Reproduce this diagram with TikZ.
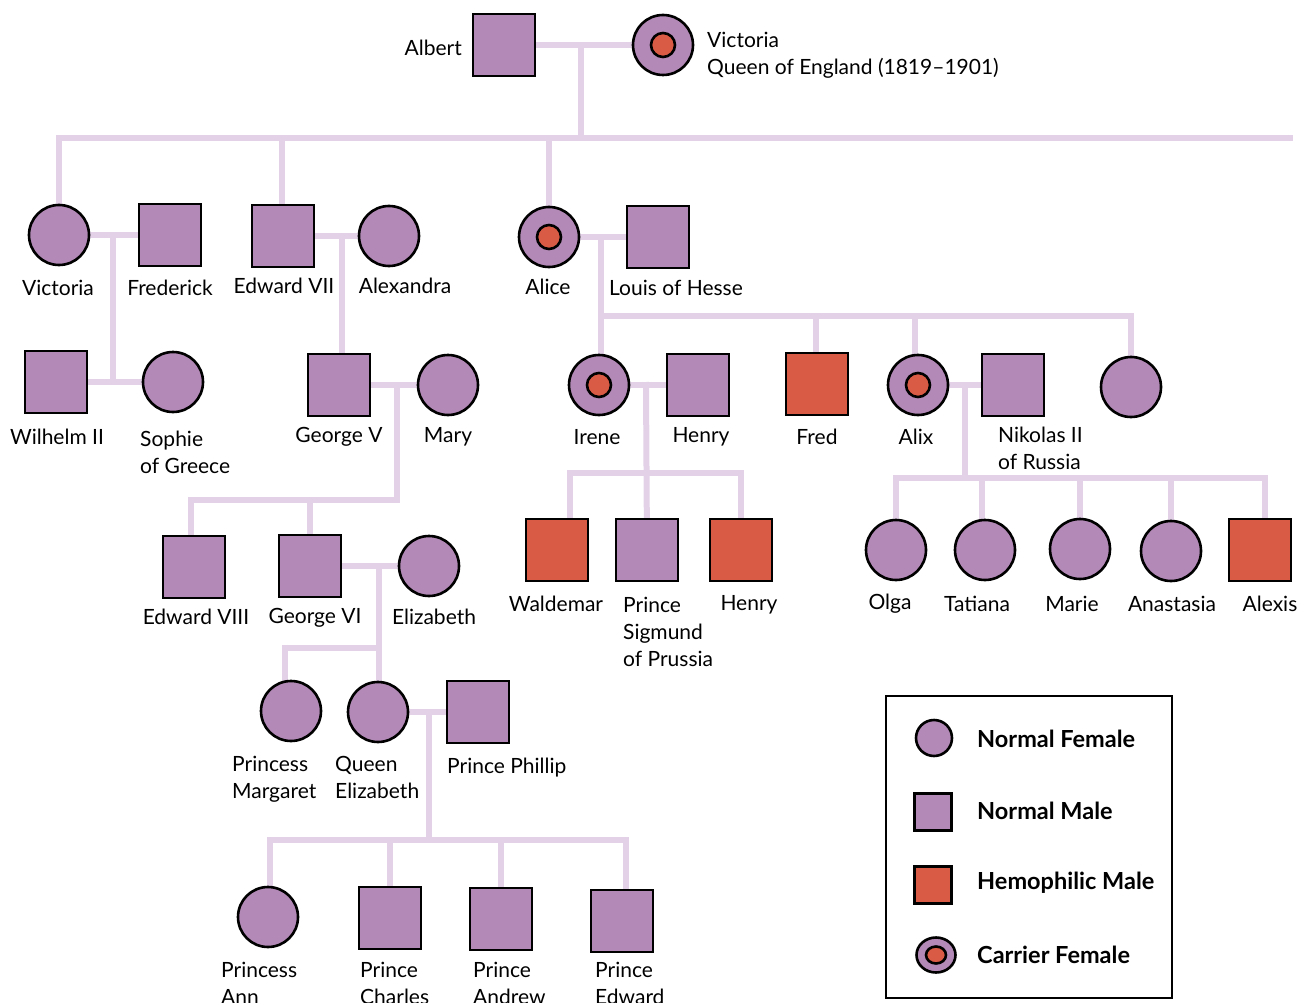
\documentclass[tikz,border=0pt]{standalone}
\usepackage{fontspec}
\setmainfont{Lato}
\usetikzlibrary{backgrounds,shapes.geometric}
\definecolor{purp}{HTML}{B38AB7}
\definecolor{hemo}{HTML}{DA5B45}
\definecolor{kinline}{HTML}{E2D1E7}
\tikzset{
  person/.style={draw=black, line width=2.6pt, fill=purp, inner sep=0pt},
  female/.style={person, circle, minimum size=60pt},
  male/.style={person, rectangle, minimum size=62pt},
  hemomale/.style={male, fill=hemo},
  carrier/.style={female, path picture={\fill[hemo, draw=black, line width=2.6pt]
      (path picture bounding box.center) circle (12pt);}},
  kin/.style={draw=kinline, line width=6pt, line cap=rect},
  lbl/.style={inner sep=0pt, font=\fontsize{21}{27}\selectfont, align=center},
  llbl/.style={lbl, align=left, anchor=west},
  keytext/.style={inner sep=0pt, anchor=west, font=\fontsize{23.5}{26}\selectfont\bfseries},
}
\begin{document}
\begin{tikzpicture}[x=1pt, y=-1pt]
\useasboundingbox (0,0) rectangle (1306,1003);

% ---- generation I
\node[male] (albert) at (504,45) {};
\node[carrier] (qvic) at (663,45) {};
\node[lbl, anchor=east] (t-albert) at (462,48) {Albert};
\node[llbl] (t-qvic) at (707,55) {Victoria\\Queen of England (1819--1901)};

% ---- generation II
\node[female] (vic) at (59,235) {};
\node[male] (fred) at (170,235) {};
\node[male] (ed7) at (283,236) {};
\node[female] (alexandra) at (389,236) {};
\node[carrier] (alice) at (549,237) {};
\node[male] (louis) at (658,237) {};
\node[lbl] (t-vic) at (58,288) {Victoria};
\node[lbl] (t-fred) at (170,288) {Frederick};
\node[lbl] (t-ed7) at (284,286) {Edward VII};
\node[lbl] (t-alexandra) at (405,286) {Alexandra};
\node[lbl] (t-alice) at (548,287) {Alice};
\node[llbl] (t-louis) at (609,288) {Louis of Hesse};

% ---- generation III
\node[male] (wil) at (56,382) {};
\node[female] (sophie) at (173,382) {};
\node[male] (george5) at (339,385) {};
\node[female] (mary) at (448,385) {};
\node[carrier] (irene) at (599,385) {};
\node[male] (henry) at (698,385) {};
\node[hemomale] (fredh) at (817,384) {};
\node[carrier] (alix) at (918,385) {};
\node[male] (nikolas) at (1013,385) {};
\node[female] (sister) at (1131,387) {};
\node[lbl] (t-wil) at (57,437) {Wilhelm II};
\node[llbl] (t-sophie) at (140,452) {Sophie\\of Greece};
\node[lbl] (t-george5) at (339,437) {George V};
\node[lbl] (t-mary) at (448,437) {Mary};
\node[lbl] (t-irene) at (597,437) {Irene};
\node[lbl] (t-henry) at (701,437) {Henry};
\node[lbl] (t-fredh) at (817,437) {Fred};
\node[lbl] (t-alix) at (916,437) {Alix};
\node[llbl] (t-nikolas) at (998,448) {Nikolas II\\of Russia};

% ---- generation IV
\node[male] (ed8) at (194,567) {};
\node[male] (george6) at (310,566) {};
\node[female] (eliz) at (429,566) {};
\node[hemomale] (waldemar) at (557,550) {};
\node[male] (sigmund) at (647,550) {};
\node[hemomale] (henryh) at (741,550) {};
\node[female] (olga) at (896,550) {};
\node[female] (tatiana) at (985,550) {};
\node[female] (marie) at (1080,549) {};
\node[female] (anastasia) at (1171,551) {};
\node[hemomale] (alexis) at (1260,550) {};
\node[lbl] (t-ed8) at (196,617) {Edward VIII};
\node[lbl] (t-george6) at (315,618) {George VI};
\node[lbl] (t-eliz) at (434,617) {Elizabeth};
\node[lbl] (t-waldemar) at (556,604) {Waldemar};
\node[llbl] (t-sigmund) at (623,632) {Prince\\Sigmund\\of Prussia};
\node[lbl] (t-henryh) at (749,605) {Henry};
\node[lbl] (t-olga) at (890,604) {Olga};
\node[lbl] (t-tatiana) at (977,604) {Tatiana};
\node[lbl] (t-marie) at (1072,604) {Marie};
\node[lbl] (t-anastasia) at (1172,604) {Anastasia};
\node[lbl] (t-alexis) at (1270,604) {Alexis};

% ---- generation V
\node[female] (margaret) at (291,711) {};
\node[female] (qeliz) at (378,712) {};
\node[male] (phillip) at (478,712) {};
\node[llbl] (t-margaret) at (232,779) {Princess\\Margaret};
\node[llbl] (t-qeliz) at (335,777) {Queen\\Elizabeth};
\node[llbl] (t-phillip) at (447,768) {Prince Phillip};

% ---- generation VI
\node[female] (ann) at (268,917) {};
\node[male] (charles) at (390,918) {};
\node[male] (andrew) at (501,919) {};
\node[male] (edward) at (622,921) {};
\node[llbl] (t-ann) at (221,983) {Princess\\Ann};
\node[llbl] (t-charles) at (360,983) {Prince\\Charles};
\node[llbl] (t-andrew) at (473,983) {Prince\\Andrew};
\node[llbl] (t-edward) at (595,983) {Prince\\Edward};

% ---- key
\node[draw=black, line width=2.6pt, minimum width=286pt, minimum height=302pt,
      inner sep=0pt] (key) at (1029,847) {};
\node[person, circle, minimum size=36pt] (k-female) at (934,738) {};
\node[person, rectangle, minimum size=37pt] (k-male) at (933,812) {};
\node[person, rectangle, minimum size=37pt, fill=hemo] (k-hemo) at (933,885) {};
\node[person, ellipse, minimum width=39pt, minimum height=35pt] (k-carrier) at (936,955) {};
\node[draw=black, line width=2.6pt, fill=hemo, ellipse, inner sep=0pt,
      minimum width=20pt, minimum height=17pt] (k-carrier-in) at (k-carrier.center) {};
\node[keytext] (t-kf) at (977,739) {Normal Female};
\node[keytext] (t-km) at (977,811) {Normal Male};
\node[keytext] (t-kh) at (977,883) {Hemophilic Male};
\node[keytext] (t-kc) at (977,955) {Carrier Female};

% ---- kinship lines
\begin{scope}[on background layer]
  % Albert & Victoria
  \coordinate (m0) at (581,45);
  \coordinate (bar0) at (581,138);
  \coordinate (bar0end) at (1290,138);
  \draw[kin] (albert) -- (qvic);
  \draw[kin] (m0) -- (bar0);
  \draw[kin] (vic |- bar0) -- (bar0end);
  \draw[kin] (vic |- bar0) -- (vic);
  \draw[kin] (282,138) -- (282,236);
  \draw[kin] (alice |- bar0) -- (alice);

  % Victoria & Frederick
  \coordinate (m1) at (113,235);
  \draw[kin] (vic) -- (fred);
  \draw[kin] (m1) -- (m1 |- wil);
  \draw[kin] (wil) -- (sophie);

  % Edward VII & Alexandra
  \coordinate (m2) at (342,236);
  \draw[kin] (ed7) -- (alexandra);
  \draw[kin] (m2) -- (m2 |- george5);

  % Alice & Louis of Hesse
  \coordinate (m3) at (601,237);
  \coordinate (bar3) at (601,316);
  \draw[kin] (alice) -- (louis);
  \draw[kin] (m3) -- (m3 |- irene);
  \draw[kin] (bar3) -- (sister |- bar3) -- (sister);
  \draw[kin] (816,316) -- (816,384);
  \draw[kin] (915,316) -- (915,385);

  % George V & Mary
  \coordinate (m4) at (397,385);
  \coordinate (bar4) at (397,500);
  \draw[kin] (george5) -- (mary);
  \draw[kin] (m4) -- (bar4) -- (191,500) -- (191,567);
  \draw[kin] (george6 |- bar4) -- (george6);

  % Irene & Henry
  \coordinate (m5) at (646,385);
  \coordinate (bar5) at (646,473);
  \draw[kin] (irene) -- (henry);
  \draw[kin] (m5) -- (sigmund);
  \draw[kin] (570,550) -- (570,473) -- (henryh |- bar5) -- (henryh);

  % Alix & Nikolas II
  \coordinate (m6) at (965,385);
  \coordinate (bar6) at (965,478);
  \draw[kin] (alix) -- (nikolas);
  \draw[kin] (m6) -- (bar6);
  \draw[kin] (olga) -- (olga |- bar6) -- (1265,478) -- (1265,550);
  \draw[kin] (982,478) -- (982,550);
  \draw[kin] (marie |- bar6) -- (marie);
  \draw[kin] (anastasia |- bar6) -- (anastasia);

  % George VI & Elizabeth
  \coordinate (m7) at (379,566);
  \coordinate (bar7) at (379,648);
  \draw[kin] (george6) -- (eliz);
  \draw[kin] (m7) -- (m7 |- qeliz);
  \draw[kin] (bar7) -- (285,648) -- (285,711);

  % Queen Elizabeth & Prince Phillip
  \coordinate (m8) at (429,712);
  \coordinate (bar8) at (429,840);
  \draw[kin] (qeliz) -- (phillip);
  \draw[kin] (m8) -- (bar8);
  \draw[kin] (270,917) -- (270,840) -- (626,840) -- (626,921);
  \draw[kin] (charles |- bar8) -- (charles);
  \draw[kin] (andrew |- bar8) -- (andrew);
\end{scope}
\end{tikzpicture}
\end{document}
